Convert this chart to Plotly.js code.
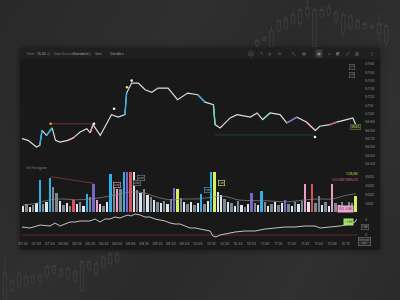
<!DOCTYPE html>
<html><head><meta charset="utf-8">
<script src="https://cdn.plot.ly/plotly-3.0.1.min.js"></script>
<style>
html,body{margin:0;padding:0;width:400px;height:300px;overflow:hidden;background:#2b2b2b;}
#bg{position:absolute;left:0;top:0;width:400px;height:300px;background:linear-gradient(120deg,#292929 0%,#2f2f2f 35%,#2a2a2a 55%,#303030 80%,#2a2a2a 100%);}
#panel{position:absolute;left:20px;top:48px;width:360px;height:202px;background:#191919;border-radius:2px;box-shadow:0 0 6px rgba(0,0,0,0.45);}
#toolbar{position:absolute;left:20px;top:48px;width:360px;height:11px;background:#1f1f1f;border-radius:2px 2px 0 0;}
#chart{position:absolute;left:0;top:0;width:400px;height:300px;}
</style></head><body>
<div id="bg"></div><div id="panel"></div><div id="toolbar"></div><div id="chart"></div>
<script>
// ---------- DATA ----------
// price path (minutes after 07:30, price)
const priceTimes = [-1,4.5,12,15,17,21,26,29,33,40,45,51,57,60,62.5,69,75,79,85,91,92.5,97,103,109,115,120.5,129.5,138,147,156,162.5,170,171.5,176,185,191,203,209,214,220.5,229.5,235.5,244.5,253,261,265,274,280,289,294.5,298];
const priceClose = [56.70,56.68,56.60,56.62,56.80,56.74,56.83,56.68,56.66,56.68,56.71,56.78,56.82,56.77,56.87,56.74,56.89,56.99,56.96,56.99,57.25,57.37,57.37,57.29,57.26,57.31,57.31,57.17,57.25,57.23,57.14,57.11,56.87,56.83,56.95,56.99,56.96,57.01,56.93,57.01,56.99,56.89,56.96,56.90,56.80,56.85,56.87,56.90,56.93,56.95,56.84];
// coloured candles on the price path (segment start index, colour key)
const highlightSegIdx = [3,5,9,13,19,29,31,38,41,43,46];
const highlightSegKey = ['c','c','pk','pk','c','c','gr','gr','p','pk','r'];
const priceTicks = [57.60,57.50,57.40,57.30,57.20,57.10,57.00,56.90,56.80,56.70,56.60,56.50,56.40];
// level lines on the price panel
const levelStart = [24.7,171.4];
const levelEnd = [63.4,260.7];
const levelPrice = [56.88,56.745];
const levelKey = ['rl','tl'];
// signal dots
const signalTimes = [24.7,63.4,81.3,92.9,97,260.7];
const signalPrices = [56.88,56.88,57.06,57.32,57.40,56.72];
const signalKey = ['o','w','w','y','w','w'];

// volume histogram
const volumeValues = [700,900,600,800,1000,3700,900,1200,3900,2900,2200,1300,800,1000,700,1400,900,1100,700,2100,1700,3200,1400,900,700,1100,4400,3100,2700,2600,4600,4600,4600,4600,2500,2200,2600,2000,1700,1400,1200,1000,1300,900,1500,2800,2700,1600,1100,900,1200,800,1000,2100,900,1300,4600,4600,2300,1900,1500,1200,1000,700,1300,800,600,900,2200,1000,800,2400,1100,700,900,1200,800,1000,1400,900,700,1100,900,1300,3200,1200,3200,1000,1800,800,1200,700,3200,1000,800,1100,700,1200,1000,1800];
const volumeKeys = ['w','g','w','g','w','c','g','w','c','g','g','w','g','w','g','r','w','g','w','c','g','p','pk','w','g','w','c','g','pk','g','c','p','r','w','g','w','g','w','g','w','g','w','g','w','g','p','y','g','w','g','w','g','w','c','g','w','c','y','w','w','g','w','g','w','g','w','g','w','p','g','w','c','g','w','g','w','g','w','p','g','w','g','w','g','pk','w','r','g','g','w','g','w','pk','g','w','g','w','g','g','y'];
const volumeSlotMinutes = 3;
const smaTimes = [0,12,24,36,48,60,72,84,96,108,120,132,144,156,168,180,192,204,216,228,240,252,264,276,288,297];
const smaValues = [800,1000,1400,1500,1400,1500,1700,2000,2300,2200,1700,1400,1500,1500,1700,1800,1400,1300,1300,1200,1200,1400,1500,1500,1900,2100];
const volTrendTimes = [24.7,63.4];
const volTrendValues = [4060,3300];
const volumeTicks = [1000,2000,3000,4000];
const volumeTagBars = [28,34,35,55,59];
const volumeTagKey = ['pk','g','g','c','y'];

// lower indicator
const indTimes = [-0.9,6.3,15.2,24.1,28.6,33,42,46.4,50.9,59.8,64.3,68.8,73.2,77.7,82.1,86.6,91.1,93.8,96.4,100,104.5,108.9,113.4,117.9,122.3,126.8,131.3,135.7,140.2,144.6,149.1,153.6,158,162.5,167,169.6,172.3,175.9,180.4,189.3,198.2,207.1,216.1,225,233.9,242.9,251.8,260.7,265.2,274.1,283,292,296.4,298.2];
const indValues = [1.6,1.4,2.0,1.8,2.4,1.8,2.6,2.6,2.8,2.8,3.2,2.6,3.2,3.2,3.6,3.4,3.8,4.0,3.8,4.2,4.0,3.6,3.6,3.2,3.0,2.8,2.4,2.2,2.2,1.8,1.4,1.4,1.2,1.0,0.8,-0.2,-0.4,0,0.2,0.6,0.8,0.8,1.2,1.4,1.6,1.6,1.8,1.8,1.4,1.6,1.8,2.2,2.6,3.2];
const indLevel = 0;
const indTicks = [0,3];
const indCurrent = 1.66;

// time axis labels
const timeLabels = ['07:30','07:42','07:54','08:06','08:18','08:30','08:42','08:54','09:06','09:18','09:30','09:42','09:54','10:06','10:18','10:30','10:42','10:54','11:06','11:18','11:30','11:42','11:54','12:06','12:18'];

// decorative background candles
const bgTopOpen  = [2,7,0,17,20,25,25,34,0,32,35,28,15,20,20,20,20,15,5];
const bgTopClose = [7,10,18,28,30,35,40,42,40,40,42,37,35,33,28,25,23,25,23];
const bgTopHigh  = [9,12,22,30,33,38,43,50,42,43,47,40,37,35,30,27,25,35,25];
const bgTopLow   = [0,6,0,15,18,22,22,30,0,30,33,25,10,18,18,18,18,5,0];
const bgBotOpen  = [0,10,15,15,18,20,25,28,25,23,20,10,32,28,35,38,40];
const bgBotClose = [28,20,28,24,25,26,35,36,32,33,30,40,40,38,45,48,48];
const bgBotHigh  = [45,22,30,27,27,28,37,38,34,35,32,42,42,40,47,50,50];
const bgBotLow   = [0,8,12,13,16,18,22,26,23,21,18,8,30,26,33,36,38];

// toolbar texts
const toolbarLeft = ['Time','15:28 ⓘ','Data Source','Standard ⓘ','1m ▾','Candle ▾'];
const toolbarIcons = ['⊕','✎','◎','⊙','⤡','▤','▣','⌂','◩','⤢','▥','⋮'];

// ---------- STYLE ----------
const pal = {w:'#dfe5ea', g:'#7b8892', c:'#2fb0e6', r:'#d8505c', p:'#7566cc', pk:'#ec9cc4', y:'#d8ee5c', gr:'#78d6a6', o:'#f0a030', rl:'#7a2c2c', tl:'#24464e'};
const P = x => x/400, Q = y => 1 - y/300;
const tickPos = timeLabels.map(t => { const [h,m] = t.split(':').map(Number); return (h*60+m) - (7*60+30); });
const volumeTimes = volumeValues.map((_, i) => i*volumeSlotMinutes);
const XR = [-0.9, 298.2];
const XD = [P(22), P(357)];
const axisFont = {family:'Inter, Roboto, sans-serif', size:3.6, color:'#8e8e8e'};

const traces = [];
// background candles
const deco = (o,h,l,c,xa,ya) => ({type:'candlestick', x:o.map((_,i)=>i), open:o, high:h, low:l, close:c, xaxis:xa, yaxis:ya,
  increasing:{line:{color:'#404040',width:0.8}, fillcolor:'rgba(0,0,0,0)'}, decreasing:{line:{color:'#404040',width:0.8}, fillcolor:'rgba(0,0,0,0)'},
  whiskerwidth:0, hoverinfo:'skip'});
traces.push(deco(bgTopOpen,bgTopHigh,bgTopLow,bgTopClose,'x4','y4'));
traces.push(deco(bgBotOpen,bgBotHigh,bgBotLow,bgBotClose,'x5','y5'));

// level lines
levelPrice.forEach((lv,i)=>traces.push({type:'scatter', mode:'lines', x:[levelStart[i],levelEnd[i]], y:[lv,lv], xaxis:'x', yaxis:'y', line:{color:pal[levelKey[i]], width:0.9}, hoverinfo:'skip'}));
// price path
traces.push({type:'scatter', mode:'lines', x:priceTimes, y:priceClose, xaxis:'x', yaxis:'y', line:{color:'#d9dee2', width:1.2}, hoverinfo:'skip'});
highlightSegIdx.forEach((s,k)=>traces.push({type:'scatter', mode:'lines', x:[priceTimes[s],priceTimes[s+1]], y:[priceClose[s],priceClose[s+1]], xaxis:'x', yaxis:'y', line:{color:pal[highlightSegKey[k]], width:1.4}, hoverinfo:'skip'}));
traces.push({type:'scatter', mode:'markers', x:signalTimes, y:signalPrices, xaxis:'x', yaxis:'y', marker:{size:2.6, color:signalKey.map(k=>k==='w'?'#f2f2f2':pal[k])}, hoverinfo:'skip'});

// volume
traces.push({type:'bar', x:volumeTimes, y:volumeValues, xaxis:'x2', yaxis:'y2', width:2.1, marker:{color:volumeKeys.map(k=>pal[k]), line:{width:0}}, hoverinfo:'skip'});
traces.push({type:'scatter', mode:'lines', x:smaTimes, y:smaValues, xaxis:'x2', yaxis:'y2', line:{color:'#8a8a8a', width:0.7, shape:'spline'}, hoverinfo:'skip'});
traces.push({type:'scatter', mode:'lines', x:volTrendTimes, y:volTrendValues, xaxis:'x2', yaxis:'y2', line:{color:'#8a3838', width:0.8}, hoverinfo:'skip'});

// indicator
traces.push({type:'scatter', mode:'lines', x:XR, y:[indLevel,indLevel], xaxis:'x3', yaxis:'y3', line:{color:'#7a2830', width:0.8}, hoverinfo:'skip'});
traces.push({type:'scatter', mode:'lines', x:indTimes, y:indValues, xaxis:'x3', yaxis:'y3', line:{color:'#d6d6d6', width:0.9}, hoverinfo:'skip'});

const baseX = {range:XR, domain:XD, showgrid:false, zeroline:false, showline:false, ticks:'', showticklabels:false, fixedrange:true};
const baseY = {side:'right', anchor:'free', position:0.91, showgrid:false, zeroline:false, showline:false, ticks:'', tickfont:axisFont, fixedrange:true};

const ann = [];
// toolbar
const tbX = [24,35,52,71,93,108];
toolbarLeft.forEach((t,i)=>ann.push({xref:'paper', yref:'paper', x:P(tbX[i]), y:Q(53.5), xanchor:'left', yanchor:'middle', text:t, showarrow:false, font:{size:3.4, color:i%2===0&&i<4?'#7a7a7a':'#a8a8a8'}}));
const icX = [251,261,270,279,294,304,319,329,338,348,357,372];
toolbarIcons.forEach((t,i)=>ann.push({xref:'paper', yref:'paper', x:P(icX[i]), y:Q(53.5), xanchor:'center', yanchor:'middle', text:t, showarrow:false, font:{size:4, color:'#8a8a8a'}, bgcolor:i===6?'#3a3a3a':'rgba(0,0,0,0)'}));
// zoom pills
['+1','+5'].forEach((t,i)=>ann.push({xref:'paper', yref:'paper', x:P(355), y:Q(64+8*i), text:t, showarrow:false, font:{size:3, color:'#9a9a9a'}, bordercolor:'#6a6a6a', borderwidth:0.6, borderpad:0.6, bgcolor:'#1c1c1c'}));
// current price
ann.push({xref:'paper', yref:'y', x:P(361), y:priceClose[priceClose.length-1], text:priceClose[priceClose.length-1].toFixed(2), showarrow:false, font:{size:3, color:'#b8d878'}, bordercolor:'#5f7a34', borderwidth:0.6, borderpad:0.6, bgcolor:'#242a1c'});
// volume panel title and legend
ann.push({xref:'paper', yref:'paper', x:P(24), y:Q(168), xanchor:'left', text:'Vol Histogram', showarrow:false, font:{size:3.2, color:'#7c7c7c'}});
ann.push({xref:'paper', yref:'paper', x:P(360), y:Q(174), xanchor:'right', text:'1.2B/5M', showarrow:false, font:{size:3, color:'#d6d040'}});
ann.push({xref:'paper', yref:'paper', x:P(360), y:Q(179.5), xanchor:'right', text:'VOLUME SMA(20)', showarrow:false, font:{size:3, color:'#c86a8c'}});
const tagShift = [4,7,15,11,12];
volumeTagBars.forEach((b,i)=>ann.push({xref:'x2', yref:'y2', x:volumeTimes[b], y:volumeValues[b], yshift:tagShift[i], text:(volumeValues[b]/1000).toFixed(1)+'K', showarrow:false, font:{size:2.6, color:'#cfcfcf'}, bordercolor:pal[volumeTagKey[i]], borderwidth:0.6, borderpad:0.4, bgcolor:'#1c1c1c'}));
// pills on right
ann.push({xref:'paper', yref:'paper', x:P(353.5), y:Q(212.5), text:'VOL 4.6K', showarrow:false, font:{size:3, color:'#5a2a44'}, bgcolor:'#eea6d2', borderpad:0.8});
ann.push({xref:'paper', yref:'paper', x:P(353.5), y:Q(225.5), text:'+1.66', showarrow:false, font:{size:3, color:'#2e4a14'}, bgcolor:'#a6e06a', borderpad:0.8});
ann.push({xref:'paper', yref:'y3', x:P(369), y:indCurrent, text:indCurrent.toFixed(2), showarrow:false, font:{size:2.8, color:'#bcbcbc'}, bordercolor:'#6e6e6e', borderwidth:0.6, borderpad:0.5, bgcolor:'#1c1c1c'});
// logo
ann.push({xref:'paper', yref:'paper', x:P(370.5), y:Q(245.5), text:'hitchcock<br>chart', showarrow:false, font:{size:2.2, color:'#9a9a9a'}, bordercolor:'#7a7a7a', borderwidth:0.6, borderpad:0.5, bgcolor:'#2a2a2a'});

const layout = {
  width:400, height:300, margin:{l:0,r:0,t:0,b:0},
  paper_bgcolor:'rgba(0,0,0,0)', plot_bgcolor:'rgba(0,0,0,0)', showlegend:false,
  font:{family:'Inter, Roboto, sans-serif', size:3.6, color:'#8e8e8e'},
  bargap:0,
  xaxis:Object.assign({}, baseX, {anchor:'y'}),
  yaxis:Object.assign({}, baseY, {domain:[Q(165),Q(60)], range:[56.383,57.648], tickvals:priceTicks, ticktext:priceTicks.map(v=>v.toFixed(2))}),
  xaxis2:Object.assign({}, baseX, {anchor:'y2'}),
  yaxis2:Object.assign({}, baseY, {domain:[Q(212),Q(170)], range:[0,4830], tickvals:volumeTicks, ticktext:volumeTicks.map(String)}),
  xaxis3:Object.assign({}, baseX, {anchor:'y3', showticklabels:true, tickvals:tickPos, ticktext:timeLabels, tickfont:axisFont, ticklabelstandoff:0}),
  yaxis3:Object.assign({}, baseY, {domain:[Q(240),Q(213)], range:[-1,4.4], tickvals:indTicks, ticktext:indTicks.map(String)}),
  xaxis4:{domain:[P(250),P(392)], range:[-1,18.8], anchor:'y4', visible:false, rangeslider:{visible:false}, fixedrange:true},
  yaxis4:{domain:[Q(47),1], range:[0,50], anchor:'x4', visible:false, fixedrange:true},
  xaxis5:{domain:[0,P(120)], range:[-0.7,16.4], anchor:'y5', visible:false, rangeslider:{visible:false}, fixedrange:true},
  yaxis5:{domain:[0,Q(252)], range:[0,50], anchor:'x5', visible:false, fixedrange:true},
  annotations:ann
};
Plotly.newPlot('chart', traces, layout, {displayModeBar:false, staticPlot:true});
</script></body></html>
